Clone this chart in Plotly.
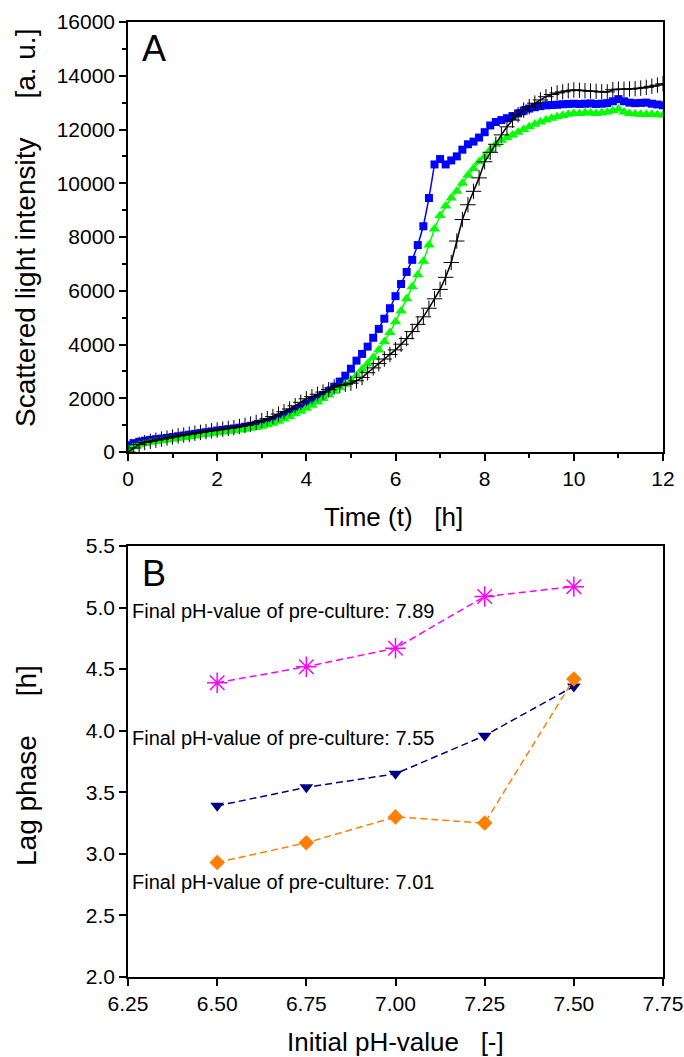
import plotly.graph_objects as go

# ---------------- Panel A data ----------------
time_h = [
    0, 0.125, 0.25, 0.375, 0.5, 0.625, 0.75, 0.875,
    1, 1.125, 1.25, 1.375, 1.5, 1.625, 1.75, 1.875,
    2, 2.125, 2.25, 2.375, 2.5, 2.625, 2.75, 2.875,
    3, 3.125, 3.25, 3.375, 3.5, 3.625, 3.75, 3.875,
    4, 4.125, 4.25, 4.375, 4.5, 4.625, 4.75, 4.875,
    5, 5.125, 5.25, 5.375, 5.5, 5.625, 5.75, 5.875,
    6, 6.125, 6.25, 6.375, 6.5, 6.625, 6.75, 6.875,
    7, 7.125, 7.25, 7.375, 7.5, 7.625, 7.75, 7.875,
    8, 8.125, 8.25, 8.375, 8.5, 8.625, 8.75, 8.875,
    9, 9.125, 9.25, 9.375, 9.5, 9.625, 9.75, 9.875,
    10, 10.125, 10.25, 10.375, 10.5, 10.625, 10.75, 10.875,
    11, 11.125, 11.25, 11.375, 11.5, 11.625, 11.75, 11.875,
    12,
]

blue_intensity = [
    250, 330, 380, 420, 450, 475, 500, 525,
    555, 585, 615, 645, 675, 705, 735, 765,
    800, 825, 850, 875, 905, 940, 975, 1015,
    1060, 1110, 1170, 1250, 1380, 1470, 1560, 1660,
    1800, 1900, 2000, 2120, 2270, 2430, 2620, 2840,
    3100, 3400, 3650, 3920, 4250, 4580, 4960, 5350,
    5800, 6250, 6700, 7150, 7700, 8400, 9450, 10700,
    10900, 10700, 10850, 11000, 11250, 11450, 11550, 11700,
    11900, 12150, 12280, 12350, 12420, 12500, 12600, 12700,
    12780, 12830, 12870, 12900, 12910, 12920, 12940, 12950,
    12960, 12950, 12960, 12970, 12950, 12960, 12980, 13050,
    13130, 13050, 13000, 12980, 12990, 13000, 12960, 12930,
    12900,
]

green_intensity = [
    100, 200, 270, 320, 360, 390, 420, 450,
    480, 510, 540, 570, 600, 630, 660, 690,
    720, 745, 770, 795, 820, 850, 880, 910,
    960, 1010, 1070, 1140, 1230, 1320, 1420, 1520,
    1630, 1740, 1860, 1990, 2120, 2260, 2400, 2520,
    2650, 2850, 3080, 3280, 3520, 3800, 4100, 4450,
    4850, 5250, 5700, 6150, 6600, 7100, 7700, 8300,
    8800, 9150, 9450, 9700, 10000, 10300, 10550, 10800,
    11000, 11250, 11450, 11600, 11700, 11800, 11900, 12000,
    12100, 12200, 12280, 12350, 12420, 12470, 12520, 12570,
    12600, 12600, 12620, 12610, 12600, 12620, 12650, 12700,
    12760, 12650, 12600, 12580, 12570, 12560, 12570, 12550,
    12540,
]

black_intensity = [
    0, 150, 280, 350, 400, 440, 480, 520,
    560, 600, 630, 660, 700, 730, 760, 790,
    820, 850, 880, 910, 950, 990, 1040, 1100,
    1170, 1240, 1320, 1410, 1500, 1600, 1720, 1850,
    1980, 2060, 2150, 2230, 2320, 2420, 2480, 2520,
    2560, 2650, 2770, 2950, 3130, 3290, 3460, 3630,
    3800, 4010, 4220, 4480, 4750, 5030, 5350, 5700,
    6050, 6500, 7050, 7850, 8650, 9200, 9700, 10200,
    10800, 11150, 11450, 11800, 12100, 12350, 12550, 12720,
    12850, 12980, 13100, 13220, 13300, 13360, 13400, 13440,
    13470, 13460, 13440, 13430, 13420, 13400, 13400, 13480,
    13500, 13500, 13510, 13520, 13540, 13570, 13610, 13650,
    13700,
]

# ---------------- Panel B data ----------------
initial_ph = [6.5, 6.75, 7.0, 7.25, 7.5]
lag_789 = [4.39, 4.52, 4.67, 5.09, 5.17]
lag_755 = [3.39, 3.54, 3.65, 3.96, 4.36]
lag_701 = [2.93, 3.09, 3.30, 3.25, 4.42]

x_ticks_a = [0, 2, 4, 6, 8, 10, 12]
y_ticks_a = [0, 2000, 4000, 6000, 8000, 10000, 12000, 14000, 16000]
x_ticks_b = [6.25, 6.5, 6.75, 7.0, 7.25, 7.5, 7.75]
y_ticks_b = [2.0, 2.5, 3.0, 3.5, 4.0, 4.5, 5.0, 5.5]

W, H = 684, 1057
FONT = "Liberation Sans, Arial, sans-serif"

fig = go.Figure()

# Panel A traces
fig.add_trace(go.Scatter(
    x=time_h, y=blue_intensity, mode="lines+markers",
    line=dict(color="#0000FF", width=1.5),
    marker=dict(symbol="square", size=8, color="#0000FF"),
    xaxis="x", yaxis="y", showlegend=False))
fig.add_trace(go.Scatter(
    x=time_h, y=green_intensity, mode="lines+markers",
    line=dict(color="#00FF00", width=1.5),
    marker=dict(symbol="triangle-up", size=10, color="#00FF00"),
    xaxis="x", yaxis="y", showlegend=False))
fig.add_trace(go.Scatter(
    x=time_h, y=black_intensity, mode="lines+markers",
    line=dict(color="#000000", width=1.5),
    marker=dict(symbol="cross-thin", size=11, color="#000000",
                line=dict(color="#000000", width=1)),
    xaxis="x", yaxis="y", showlegend=False))

# Panel B traces
dash = "7px,4px"
fig.add_trace(go.Scatter(
    x=initial_ph, y=lag_789, mode="lines+markers",
    line=dict(color="#FF00FF", width=1.5, dash=dash),
    marker=dict(symbol="asterisk-open", size=17, color="#FF00FF",
                line=dict(color="#FF00FF", width=1.5)),
    xaxis="x2", yaxis="y2", showlegend=False))
fig.add_trace(go.Scatter(
    x=initial_ph, y=lag_755, mode="lines+markers",
    line=dict(color="#000080", width=1.5, dash=dash),
    marker=dict(symbol="triangle-down", size=12, color="#000080"),
    xaxis="x2", yaxis="y2", showlegend=False))
fig.add_trace(go.Scatter(
    x=initial_ph, y=lag_701, mode="lines+markers",
    line=dict(color="#FF8000", width=1.5, dash=dash),
    marker=dict(symbol="diamond", size=12, color="#FF8000"),
    xaxis="x2", yaxis="y2", showlegend=False))

xd = [128 / W, 663 / W]
yA = [1 - 452 / H, 1 - 22 / H]
yB = [1 - 977 / H, 1 - 546 / H]

common = dict(showline=True, linecolor="black", linewidth=1.5, mirror=True,
              ticks="outside", ticklen=7, tickwidth=1.5, tickcolor="black",
              showgrid=False, zeroline=False, automargin=False,
              tickfont=dict(family=FONT, size=21, color="black"))

fig.update_layout(
    width=W, height=H,
    margin=dict(l=0, r=0, t=0, b=0, autoexpand=False),
    paper_bgcolor="white", plot_bgcolor="white",
    xaxis=dict(domain=xd, anchor="y", range=[0, 12], tickvals=x_ticks_a,
               minor=dict(ticks="outside", ticklen=4, tickwidth=1.5,
                          tickcolor="black", dtick=1, tick0=0, showgrid=False),
               **common),
    yaxis=dict(domain=yA, anchor="x", range=[0, 16000], tickvals=y_ticks_a,
               tickformat="d",
               minor=dict(ticks="outside", ticklen=4, tickwidth=1.5,
                          tickcolor="black", dtick=1000, tick0=0, showgrid=False),
               **common),
    xaxis2=dict(domain=xd, anchor="y2", range=[6.25, 7.75], tickvals=x_ticks_b,
                tickformat=".2f", **common),
    yaxis2=dict(domain=yB, anchor="x2", range=[2.0, 5.5], tickvals=y_ticks_b,
                tickformat=".1f", **common),
)

nb = "\u00a0"
annotations = [
    dict(text="A", x=140 / W, y=1 - 48 / H, xref="paper", yref="paper",
         xanchor="left", yanchor="middle", showarrow=False,
         font=dict(family=FONT, size=36, color="black")),
    dict(text="B", x=140 / W, y=1 - 573 / H, xref="paper", yref="paper",
         xanchor="left", yanchor="middle", showarrow=False,
         font=dict(family=FONT, size=36, color="black")),
    dict(text="Time (t)" + nb * 3 + "[h]", x=393 / W, y=1 - 517 / H,
         xref="paper", yref="paper", xanchor="center", yanchor="middle",
         showarrow=False, font=dict(family=FONT, size=26, color="black")),
    dict(text="Scattered light intensity" + nb * 5 + "[a. u.]", x=26 / W, y=1 - 228 / H,
         xref="paper", yref="paper", xanchor="center", yanchor="middle",
         textangle=-90, showarrow=False, font=dict(family=FONT, size=28, color="black")),
    dict(text="Initial pH-value" + nb * 3 + "[-]", x=395 / W, y=1 - 1042 / H,
         xref="paper", yref="paper", xanchor="center", yanchor="middle",
         showarrow=False, font=dict(family=FONT, size=26, color="black")),
    dict(text="Lag phase" + nb * 5 + "[h]", x=26 / W, y=1 - 766 / H,
         xref="paper", yref="paper", xanchor="center", yanchor="middle",
         textangle=-90, showarrow=False, font=dict(family=FONT, size=28, color="black")),
    dict(text="Final pH-value of pre-culture: 7.89", x=6.255, y=4.97,
         xref="x2", yref="y2", xanchor="left", yanchor="middle", showarrow=False,
         font=dict(family=FONT, size=20, color="black")),
    dict(text="Final pH-value of pre-culture: 7.55", x=6.255, y=3.94,
         xref="x2", yref="y2", xanchor="left", yanchor="middle", showarrow=False,
         font=dict(family=FONT, size=20, color="black")),
    dict(text="Final pH-value of pre-culture: 7.01", x=6.255, y=2.77,
         xref="x2", yref="y2", xanchor="left", yanchor="middle", showarrow=False,
         font=dict(family=FONT, size=20, color="black")),
]
fig.update_layout(annotations=annotations)

fig.write_html("out.html")
